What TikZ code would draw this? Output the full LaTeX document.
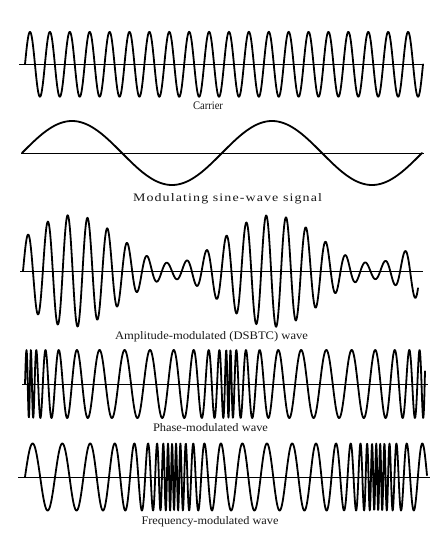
\documentclass[tikz,border=0pt]{standalone}
\usepackage{fontspec}
\setmainfont{Liberation Serif}
\usepackage{graphicx}
\pgfmathdeclarefunction{pmraw}{1}{%
  \pgfmathparse{10.8*#1 + 10.68*(atan((#1-30)/25)+atan((#1-229)/25)+atan((#1-428)/25)) + 3.77*(atan((#1-30)/4)+atan((#1-229)/4)+atan((#1-428)/4))}}
\pgfmathdeclarefunction{fmraw}{1}{%
  \pgfmathparse{10.8*#1 + 21.11*(atan((#1-173)/15)+atan((#1-378)/15))}}
\tikzset{
  wave/.style={line width=1.8pt, line join=round, line cap=round, black},
  axisline/.style={line width=0.7pt, black},
  lbl/.style={anchor=base, inner sep=0pt, font=\fontsize{11.5}{13}\selectfont, text=black!90}
}
\begin{document}
\begin{tikzpicture}[x=1pt,y=-1pt]
\fill[white] (0,0) rectangle (434,537);
\useasboundingbox (0,0) rectangle (434,537);
\pgfmathsetmacro{\pmz}{pmraw(25)}
\pgfmathsetmacro{\fmz}{fmraw(25)}
% Carrier
\coordinate (ca1) at (19,64.3);
\coordinate (ca2) at (424,64.3);
\draw[axisline] (ca1) -- (ca2);
\draw[wave] plot[domain=25:423,samples=600] (\x,{64.3-32.5*sin((\x-25)/19.9*360)});
\node[lbl] (carrier) at (208,109.5) {\resizebox{30pt}{\height}{Carrier}};
% Modulating
\coordinate (ma1) at (21,153);
\coordinate (ma2) at (424,153);
\draw[axisline] (ma1) -- (ma2);
\draw[wave] plot[domain=22:422,samples=300] (\x,{153-32*sin((\x-22)/200*360)});
\node[lbl] (modsig) at (227.5,202) {\resizebox{189pt}{\height}{\addfontfeature{LetterSpace=8}Modulating sine-wave signal}};
% AM
\coordinate (aa1) at (20,271);
\coordinate (aa2) at (423,271);
\draw[axisline] (aa1) -- (aa2);
\draw[wave] plot[domain=23:418,samples=700] (\x,{271-32*(1+0.75*sin((\x-22)/200*360))*sin((\x-23)/19.85*360)});
\node[lbl] (am) at (211.5,339.5) {\resizebox{193pt}{\height}{Amplitude-modulated (DSBTC) wave}};
% PM
\coordinate (pa1) at (22,384);
\coordinate (pa2) at (428,384);
\draw[axisline] (pa1) -- (pa2);
\draw[wave] plot[domain=25:425,samples=1300] (\x,{384-34*sin(pmraw(\x)-\pmz)});
\node[lbl] (pm) at (210.5,431) {\resizebox{115pt}{\height}{Phase-modulated wave}};
% FM
\coordinate (fa1) at (18,477);
\coordinate (fa2) at (430,477);
\draw[axisline] (fa1) -- (fa2);
\draw[wave] plot[domain=25:427,samples=1300] (\x,{477-33.5*sin(fmraw(\x)-\fmz)});
\node[lbl] (fm) at (210,524) {\resizebox{137pt}{\height}{Frequency-modulated wave}};
\end{tikzpicture}
\end{document}
